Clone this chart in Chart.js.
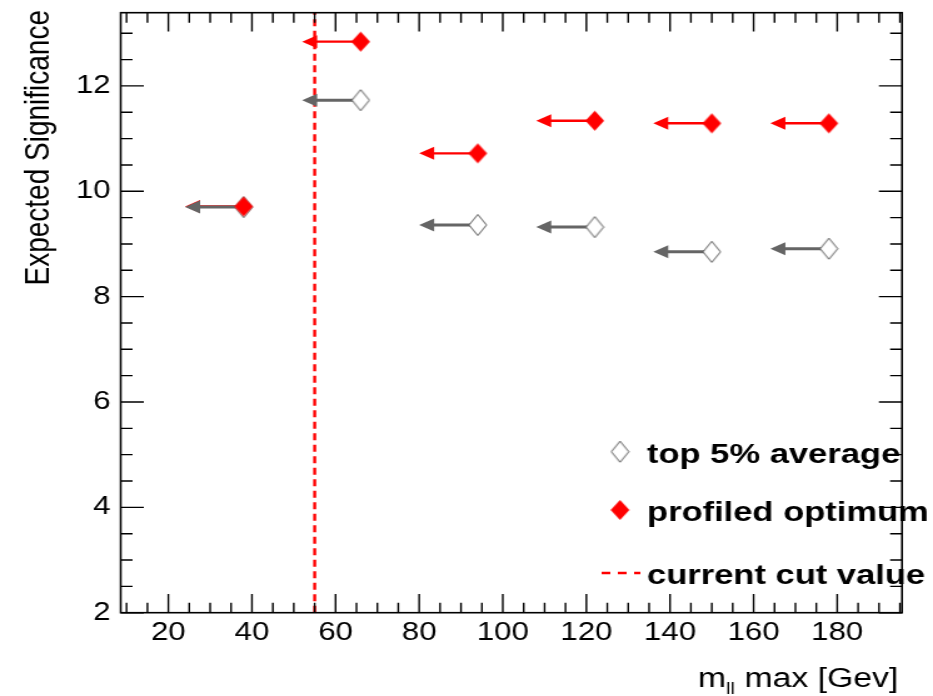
<!DOCTYPE html>
<html>
<head>
<meta charset="utf-8">
<script src="https://cdn.jsdelivr.net/npm/chart.js@4.4.1/dist/chart.umd.min.js"></script>
<style>
  html, body { margin: 0; padding: 0; background: #fff; overflow: hidden; }
  /* the reference picture is stretched sideways, so the chart is too */
  #wrap { width: 746px; height: 696px; transform: scaleX(1.2507); transform-origin: 0 0; }
</style>
</head>
<body>
<div id="wrap"><canvas id="myChart"></canvas></div>
<script>
// data
const mllMax = [38, 66, 94, 122, 150, 178];
const arrowTo = [24, 52, 80, 108, 136, 164];
const top5Avg = [9.70, 11.73, 9.36, 9.32, 8.85, 8.91];
const profiledOpt = [9.71, 12.84, 10.72, 11.34, 11.29, 11.29];
const cutValue = 55;
const xTicks = [20, 40, 60, 80, 100, 120, 140, 160, 180];
const yTicks = [2, 4, 6, 8, 10, 12];
const legendLabels = ['top 5% average', 'profiled optimum', 'current cut value'];

const red = '#ff0000';
const grey = '#656565';
const fam = "'Liberation Sans', Arial, Helvetica, sans-serif";

function diamond(w, h, fill, stroke) {
  const c = document.createElement('canvas');
  c.width = w + 2; c.height = h + 2;
  const g = c.getContext('2d');
  g.beginPath();
  g.moveTo(c.width / 2, 1);
  g.lineTo(c.width - 1, c.height / 2);
  g.lineTo(c.width / 2, c.height - 1);
  g.lineTo(1, c.height / 2);
  g.closePath();
  g.fillStyle = fill;
  g.fill();
  if (stroke) { g.strokeStyle = stroke; g.lineWidth = 1; g.stroke(); }
  return c;
}
const openDiamond = diamond(14, 21, '#fff', '#555');
const fullDiamond = diamond(15, 20, red, null);

function drawArrows(chart, values, color, lw) {
  const ctx = chart.ctx, xs = chart.scales.x, ys = chart.scales.y;
  ctx.save();
  ctx.strokeStyle = color; ctx.fillStyle = color; ctx.lineWidth = lw;
  mllMax.forEach((v, i) => {
    const x0 = xs.getPixelForValue(v);
    const x1 = xs.getPixelForValue(arrowTo[i]);
    const py = ys.getPixelForValue(values[i]);
    ctx.beginPath(); ctx.moveTo(x0, py); ctx.lineTo(x1 + 9, py); ctx.stroke();
    ctx.beginPath(); ctx.moveTo(x1, py); ctx.lineTo(x1 + 12, py - 6.5); ctx.lineTo(x1 + 12, py + 6.5); ctx.closePath(); ctx.fill();
  });
  ctx.restore();
}

const rootStyle = {
  id: 'rootStyle',
  beforeDatasetsDraw(chart) {
    const ctx = chart.ctx, a = chart.chartArea;
    const cx = chart.scales.x.getPixelForValue(cutValue);
    ctx.save();
    ctx.strokeStyle = red; ctx.lineWidth = 2.4; ctx.setLineDash([7, 4.5]);
    ctx.beginPath(); ctx.moveTo(cx, a.bottom); ctx.lineTo(cx, a.top); ctx.stroke();
    ctx.restore();
    drawArrows(chart, profiledOpt, red, 2.4);
    drawArrows(chart, top5Avg, grey, 3);
  },
  afterDatasetsDraw(chart) {
    const ctx = chart.ctx;
    const rows = [451.7, 510, 573];
    ctx.save();
    ctx.drawImage(openDiamond, 495.7 - openDiamond.width / 2, rows[0] - openDiamond.height / 2);
    ctx.drawImage(fullDiamond, 495.7 - fullDiamond.width / 2, rows[1] - fullDiamond.height / 2);
    ctx.strokeStyle = red; ctx.lineWidth = 2.4; ctx.setLineDash([7, 6]);
    ctx.beginPath(); ctx.moveTo(481, rows[2]); ctx.lineTo(512, rows[2]); ctx.stroke();
    ctx.fillStyle = '#000';
    ctx.font = 'bold 27.6px ' + fam;
    ctx.textBaseline = 'alphabetic';
    legendLabels.forEach((t, i) => ctx.fillText(t, 517.3, rows[i] + 11));
    ctx.restore();
  },
  afterDraw(chart) {
    const ctx = chart.ctx, a = chart.chartArea, xs = chart.scales.x, ys = chart.scales.y;
    ctx.save();
    ctx.strokeStyle = '#000';
    ctx.lineWidth = 1.4;
    ctx.beginPath();
    for (let v = 10; v <= 195; v += 5) {
      const px = xs.getPixelForValue(v);
      const len = v % 20 === 0 ? 18.7 : 10;
      ctx.moveTo(px, a.bottom); ctx.lineTo(px, a.bottom - len);
      ctx.moveTo(px, a.top); ctx.lineTo(px, a.top + len);
    }
    for (let v = 2; v <= 13; v += 0.5) {
      const py = ys.getPixelForValue(v);
      const len = v % 2 === 0 ? 18.5 : 9.5;
      ctx.moveTo(a.left, py); ctx.lineTo(a.left + len, py);
      ctx.moveTo(a.right, py); ctx.lineTo(a.right - len, py);
    }
    ctx.stroke();
    ctx.lineWidth = 1.6;
    ctx.strokeRect(a.left, a.top, a.right - a.left, a.bottom - a.top);

    // x title: m_ll max [Gev]
    ctx.fillStyle = '#000';
    ctx.textBaseline = 'alphabetic';
    ctx.font = '27px ' + fam;
    const wm = ctx.measureText('m').width;
    const wr = ctx.measureText(' max [Gev]').width;
    ctx.font = '16px ' + fam;
    const ws = ctx.measureText('ll').width;
    let tx = 718.2 - wr - ws - wm;
    ctx.font = '27px ' + fam;
    ctx.fillText('m', tx, 687);
    ctx.font = '16px ' + fam;
    ctx.fillText('ll', tx + wm, 694);
    ctx.font = '27px ' + fam;
    ctx.fillText(' max [Gev]', tx + wm + ws, 687);

    // y title
    ctx.font = '28px ' + fam;
    ctx.translate(39, 10);
    ctx.rotate(-Math.PI / 2);
    ctx.textAlign = 'right';
    ctx.fillText('Expected Significance', 0, 0);
    ctx.restore();
  }
};

var ctx = document.getElementById('myChart');

var myChart = new Chart(ctx, {
  type: 'scatter',
  data: {
    datasets: [{
      label: 'profiled optimum',
      data: mllMax.map((x, i) => ({ x: x, y: profiledOpt[i] })),
      pointStyle: fullDiamond,
      pointRadius: 8,
      showLine: false
    },
    {
      label: 'top 5% average',
      data: mllMax.map((x, i) => ({ x: x, y: top5Avg[i] })),
      pointStyle: openDiamond,
      pointRadius: 8,
      showLine: false
    }]
  },
  options: {
    responsive: true,
    maintainAspectRatio: false,
    animation: false,
    layout: { padding: { top: 12.7, right: 24.8, left: 0, bottom: 0 } },
    plugins: { legend: { display: false }, tooltip: { enabled: false } },
    scales: {
      x: {
        type: 'linear', min: 8.6, max: 195.5,
        grid: { display: false, drawTicks: false },
        border: { display: false },
        afterBuildTicks: s => { s.ticks = xTicks.map(v => ({ value: v })); },
        afterFit: s => { s.height = 83.3; s.paddingLeft = 0; s.paddingRight = 0; },
        ticks: { color: '#000', font: { family: fam, size: 25 }, padding: 5, maxRotation: 0, autoSkip: false }
      },
      y: {
        type: 'linear', min: 2, max: 13.39,
        grid: { display: false, drawTicks: false },
        border: { display: false },
        afterBuildTicks: s => { s.ticks = yTicks.map(v => ({ value: v })); },
        afterFit: s => { s.width = 96.5; s.paddingTop = 0; s.paddingBottom = 0; },
        ticks: { color: '#000', font: { family: fam, size: 25 }, padding: 8 }
      }
    }
  },
  plugins: [rootStyle]
});
</script>
</body>
</html>
